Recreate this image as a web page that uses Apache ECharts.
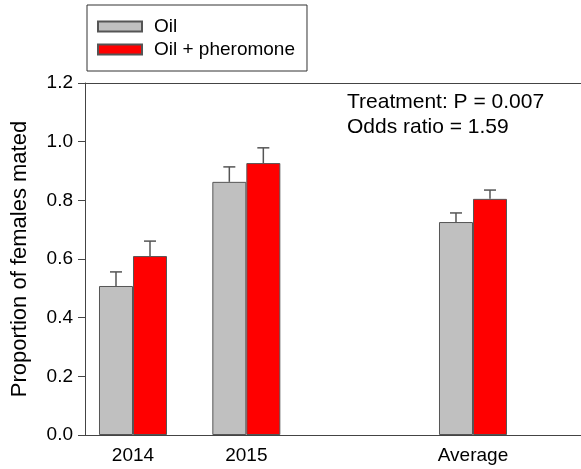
<!DOCTYPE html>
<html>
<head>
<meta charset="utf-8">
<script src="https://cdn.jsdelivr.net/npm/echarts@6/dist/echarts.min.js"></script>
<style>
html,body{margin:0;padding:0;background:#fff;}
#chart{width:581px;height:469px;}
</style>
</head>
<body>
<div id="chart"></div>
<script>
// ---- data ----
var categories = ['2014', '2015', 'Average'];
var slots = [1, 2, 4];               // category slot on the x scale (slot 3 is empty)
var oil = [0.508, 0.863, 0.726];
var oilErr = [0.048, 0.051, 0.031];
var pher = [0.610, 0.927, 0.805];
var pherErr = [0.051, 0.052, 0.030];
var yTicks = [0, 0.2, 0.4, 0.6, 0.8, 1.0, 1.2];
var seriesNames = ['Oil', 'Oil + pheromone'];
var note = ['Treatment: P = 0.007', 'Odds ratio = 1.59'];

var BAR_W = 34;
var FONT = '"Liberation Sans", Arial, sans-serif';
var AXIS_COLOR = '#444';

function pairs(vals) { return vals.map(function (v, i) { return [slots[i], v]; }); }
function errData(vals, errs) { return vals.map(function (v, i) { return [slots[i], v, v + errs[i]]; }); }

function errRender(offsetSign) {
  return function (params, api) {
    var top = api.coord([api.value(0), api.value(2)]);
    var base = api.coord([api.value(0), api.value(1)]);
    var x = top[0] + offsetSign * BAR_W / 2;
    var cap = 6;
    var st = { stroke: '#555', lineWidth: 1.5 };
    return {
      type: 'group',
      children: [
        { type: 'line', shape: { x1: x, y1: base[1], x2: x, y2: top[1] }, style: st },
        { type: 'line', shape: { x1: x - cap, y1: top[1], x2: x + cap, y2: top[1] }, style: st }
      ]
    };
  };
}

var chart = echarts.init(document.getElementById('chart'), null, { renderer: 'canvas' });
chart.setOption({
  animation: false,
  backgroundColor: '#fff',
  textStyle: { fontFamily: FONT },
  title: {
    text: note.join('\n'),
    left: 342, top: 85,
    textStyle: { fontFamily: FONT, fontSize: 21, fontWeight: 'normal', color: '#000', lineHeight: 25 }
  },
  legend: {
    orient: 'vertical',
    left: 87, top: 5,
    padding: [12, 12, 12, 10],
    itemWidth: 44, itemHeight: 10, itemGap: 4,
    borderColor: '#333', borderWidth: 1,
    icon: 'rect',
    data: seriesNames,
    textStyle: { fontFamily: FONT, fontSize: 19, color: '#000', padding: [0, 0, 0, 7] }
  },
  grid: { left: 85, right: 0, top: 83, bottom: 34, containLabel: false, outerBoundsMode: 'none' },
  xAxis: [{
    type: 'value',
    min: 0.5765, max: 4.953,
    splitLine: { show: false },
    axisLine: { show: true, onZero: false, lineStyle: { color: AXIS_COLOR, width: 1 } },
    axisTick: { show: false },
    axisLabel: {
      customValues: slots,
      formatter: function (v) { var i = slots.indexOf(v); return i >= 0 ? categories[i] : ''; },
      fontFamily: FONT, fontSize: 19, color: '#000', margin: 11
    }
  }, {
    type: 'value', position: 'top',
    min: 0.5765, max: 4.953,
    splitLine: { show: false },
    axisLine: { show: true, onZero: false, lineStyle: { color: AXIS_COLOR, width: 1 } },
    axisTick: { show: false }, axisLabel: { show: false }
  }],
  yAxis: {
    type: 'value',
    min: 0, max: 1.2, interval: 0.2,
    name: 'Proportion of females mated',
    nameLocation: 'middle', nameGap: 54,
    nameTextStyle: { fontFamily: FONT, fontSize: 22, color: '#000' },
    splitLine: { show: false },
    axisLine: { show: true, lineStyle: { color: AXIS_COLOR, width: 1 } },
    axisTick: { show: true, inside: false, length: 7, lineStyle: { color: AXIS_COLOR } },
    axisLabel: {
      customValues: yTicks,
      formatter: function (v) { return v.toFixed(1); },
      fontFamily: FONT, fontSize: 19, color: '#000', margin: 12
    }
  },
  series: [{
    name: seriesNames[0], type: 'bar', xAxisIndex: 0,
    data: pairs(oil), barWidth: BAR_W, barGap: '0%',
    itemStyle: { color: '#c0c0c0', borderColor: '#555', borderWidth: 1 }
  }, {
    name: seriesNames[1], type: 'bar', xAxisIndex: 0,
    data: pairs(pher), barWidth: BAR_W, barGap: '0%',
    itemStyle: { color: '#ff0000', borderColor: '#555', borderWidth: 1 }
  }, {
    type: 'custom', xAxisIndex: 0, z: 1,
    renderItem: errRender(-1), data: errData(oil, oilErr), silent: true
  }, {
    type: 'custom', xAxisIndex: 0, z: 1,
    renderItem: errRender(1), data: errData(pher, pherErr), silent: true
  }]
});
</script>
</body>
</html>
